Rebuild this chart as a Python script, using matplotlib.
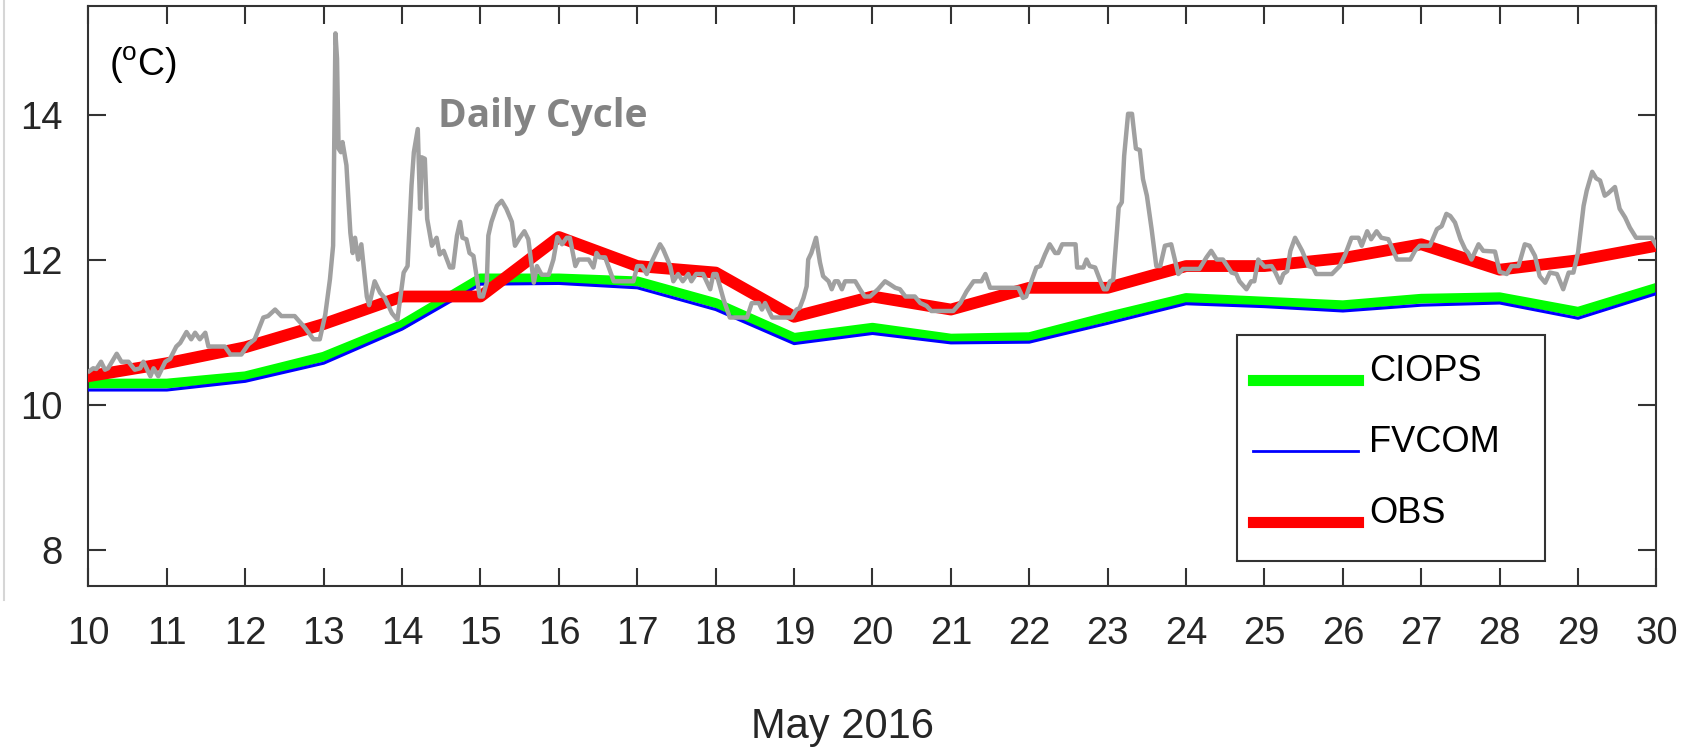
import matplotlib
matplotlib.use('Agg')
import matplotlib.pyplot as plt
from matplotlib.lines import Line2D
from matplotlib.patches import Rectangle

plt.rcParams['font.family'] = ['Liberation Sans Narrow', 'Liberation Sans', 'DejaVu Sans']
plt.rcParams['mathtext.fontset'] = 'custom'
plt.rcParams['mathtext.rm'] = 'Liberation Sans'

# ---------------- data ----------------
days = list(range(10, 31))
obs = [10.40, 10.58, 10.80, 11.12, 11.50, 11.50, 12.32, 11.92, 11.83, 11.22, 11.50,
       11.32, 11.62, 11.62, 11.92, 11.92, 12.03, 12.22, 11.87, 12.00, 12.20]
ciops = [10.30, 10.30, 10.40, 10.67, 11.11, 11.75, 11.75, 11.71, 11.41, 10.93, 11.07,
         10.92, 10.94, 11.22, 11.48, 11.43, 11.38, 11.47, 11.49, 11.29, 11.62]
fvcom = [10.21, 10.21, 10.33, 10.58, 11.05, 11.67, 11.68, 11.62, 11.32, 10.85, 10.99,
         10.86, 10.87, 11.13, 11.40, 11.36, 11.30, 11.38, 11.41, 11.20, 11.54]

cycle_days = [10.01, 10.06, 10.10, 10.16, 10.21, 10.25, 10.36, 10.42, 10.51, 10.59,
              10.66, 10.70, 10.79, 10.83, 10.89, 10.98, 11.04, 11.12, 11.17, 11.25,
              11.31, 11.36, 11.42, 11.49, 11.53, 11.74, 11.81, 11.95, 12.04, 12.12,
              12.23, 12.29, 12.38, 12.46, 12.63, 12.76, 12.87, 12.95, 13.02, 13.08,
              13.12, 13.15, 13.17, 13.19, 13.22, 13.24, 13.29, 13.34, 13.37, 13.40,
              13.44, 13.48, 13.55, 13.58, 13.65, 13.72, 13.78, 13.87, 13.94, 14.02,
              14.07, 14.12, 14.15, 14.20, 14.23, 14.25, 14.29, 14.32, 14.38, 14.44,
              14.48, 14.53, 14.61, 14.65, 14.70, 14.74, 14.77, 14.82, 14.86, 14.91,
              14.99, 15.03, 15.08, 15.10, 15.14, 15.21, 15.27, 15.33, 15.40, 15.44,
              15.50, 15.56, 15.61, 15.68, 15.72, 15.78, 15.87, 15.93, 15.98, 16.04,
              16.10, 16.14, 16.21, 16.25, 16.38, 16.44, 16.48, 16.52, 16.59, 16.63,
              16.70, 16.95, 17.00, 17.06, 17.12, 17.18, 17.29, 17.33, 17.42, 17.46,
              17.52, 17.58, 17.65, 17.69, 17.75, 17.84, 17.93, 17.97, 18.01, 18.10,
              18.18, 18.40, 18.46, 18.55, 18.59, 18.63, 18.72, 18.97, 19.03, 19.07,
              19.12, 19.16, 19.18, 19.22, 19.28, 19.33, 19.37, 19.44, 19.48, 19.52,
              19.56, 19.61, 19.65, 19.78, 19.84, 19.90, 19.97, 20.07, 20.16, 20.22,
              20.29, 20.35, 20.42, 20.54, 20.61, 20.69, 20.75, 21.03, 21.12, 21.20,
              21.29, 21.39, 21.44, 21.50, 21.86, 21.92, 21.96, 22.03, 22.09, 22.14,
              22.20, 22.26, 22.33, 22.37, 22.42, 22.59, 22.61, 22.69, 22.73, 22.77,
              22.84, 22.90, 22.95, 22.99, 23.03, 23.07, 23.12, 23.14, 23.18, 23.21,
              23.26, 23.31, 23.36, 23.41, 23.45, 23.50, 23.56, 23.62, 23.67, 23.73,
              23.81, 23.90, 23.96, 24.17, 24.26, 24.32, 24.39, 24.47, 24.58, 24.64,
              24.68, 24.77, 24.83, 24.87, 24.92, 25.00, 25.09, 25.14, 25.20, 25.24,
              25.29, 25.33, 25.39, 25.48, 25.56, 25.62, 25.66, 25.86, 25.96, 26.03,
              26.11, 26.20, 26.24, 26.31, 26.36, 26.43, 26.49, 26.58, 26.69, 26.86,
              26.92, 26.98, 27.11, 27.20, 27.26, 27.32, 27.37, 27.43, 27.50, 27.56,
              27.60, 27.64, 27.73, 27.79, 27.94, 28.00, 28.09, 28.15, 28.24, 28.32,
              28.38, 28.45, 28.51, 28.58, 28.64, 28.73, 28.81, 28.88, 28.94, 29.00,
              29.07, 29.11, 29.18, 29.23, 29.28, 29.34, 29.38, 29.47, 29.53, 29.60,
              29.66, 29.74, 29.94, 30.00]
cycle_temp = [10.47, 10.51, 10.50, 10.60, 10.49, 10.51, 10.71, 10.60, 10.60, 10.49,
              10.51, 10.60, 10.40, 10.51, 10.40, 10.60, 10.64, 10.81, 10.86, 11.01,
              10.91, 11.00, 10.91, 11.00, 10.81, 10.81, 10.70, 10.70, 10.84, 10.91,
              11.21, 11.23, 11.32, 11.23, 11.23, 11.07, 10.91, 10.91, 11.25, 11.74,
              12.20, 15.13, 14.78, 13.54, 13.49, 13.63, 13.31, 12.38, 12.10, 12.31,
              12.01, 12.22, 11.50, 11.38, 11.71, 11.55, 11.48, 11.27, 11.18, 11.83,
              11.92, 13.03, 13.49, 13.81, 12.71, 13.42, 13.40, 12.57, 12.20, 12.31,
              12.08, 12.13, 11.90, 11.90, 12.34, 12.53, 12.31, 12.29, 12.10, 12.06,
              11.50, 11.50, 11.69, 12.34, 12.53, 12.75, 12.82, 12.71, 12.53, 12.20,
              12.31, 12.40, 12.29, 11.69, 11.92, 11.80, 11.80, 12.01, 12.32, 12.22,
              12.31, 12.31, 11.92, 12.01, 12.01, 11.90, 12.10, 12.04, 12.04, 11.92,
              11.71, 11.71, 11.92, 11.92, 11.81, 11.97, 12.22, 12.15, 11.92, 11.71,
              11.81, 11.71, 11.81, 11.71, 11.81, 11.81, 11.60, 11.81, 11.81, 11.46,
              11.21, 11.21, 11.41, 11.41, 11.32, 11.41, 11.21, 11.21, 11.32, 11.34,
              11.48, 11.64, 12.01, 12.10, 12.31, 11.97, 11.78, 11.71, 11.60, 11.71,
              11.71, 11.60, 11.71, 11.71, 11.60, 11.50, 11.50, 11.60, 11.71, 11.67,
              11.62, 11.60, 11.50, 11.50, 11.41, 11.37, 11.30, 11.30, 11.41, 11.57,
              11.71, 11.71, 11.81, 11.62, 11.62, 11.48, 11.50, 11.72, 11.90, 11.92,
              12.08, 12.22, 12.10, 12.10, 12.22, 12.22, 11.90, 11.90, 12.01, 11.92,
              11.90, 11.73, 11.60, 11.60, 11.71, 11.73, 12.43, 12.73, 12.80, 13.44,
              14.02, 14.02, 13.54, 13.52, 13.12, 12.89, 12.43, 11.92, 11.92, 12.20,
              12.22, 11.81, 11.88, 11.88, 12.04, 12.13, 12.01, 12.01, 11.83, 11.81,
              11.71, 11.60, 11.71, 11.71, 12.01, 11.91, 11.92, 11.83, 11.69, 11.81,
              11.85, 12.13, 12.31, 12.13, 11.92, 11.90, 11.81, 11.81, 11.92, 12.08,
              12.31, 12.31, 12.20, 12.40, 12.29, 12.40, 12.31, 12.29, 12.01, 12.01,
              12.13, 12.20, 12.20, 12.43, 12.47, 12.64, 12.61, 12.52, 12.29, 12.15,
              12.10, 12.01, 12.22, 12.13, 12.12, 11.84, 11.81, 11.92, 11.92, 12.22,
              12.20, 12.06, 11.78, 11.69, 11.83, 11.81, 11.60, 11.83, 11.83, 12.11,
              12.75, 12.96, 13.22, 13.13, 13.10, 12.89, 12.92, 13.01, 12.71, 12.59,
              12.45, 12.31, 12.31, 12.20]

series_labels = ['CIOPS', 'FVCOM', 'OBS']
xticks = list(range(10, 31))
yticks = [8, 10, 12, 14]

# ---------------- figure ----------------
W, H = 1693, 754
fig = plt.figure(figsize=(16.93, 7.54), dpi=100)
ax = fig.add_axes([0.05227, 0.22215, 0.92617, 0.76923])

# faint edge strip seen at the far left of the original image
fig.add_artist(Line2D([0.0025, 0.0025], [1 - 600 / H, 1.0], transform=fig.transFigure,
                      color='#d6d6d6', lw=1.5))

axis_col = '#333333'
h_c, = ax.plot(days, ciops, color='#00ff00', lw=7.0, zorder=2)
h_f, = ax.plot(days, fvcom, color='#0000ff', lw=2.2, zorder=3)
h_o, = ax.plot(days, obs, color='#ff0000', lw=8.5, zorder=4)
ax.plot(cycle_days, cycle_temp, color='#a0a0a0', lw=3.2, zorder=5)

ax.set_xlim(10, 30)
ax.set_ylim(7.5, 15.5)
ax.set_xticks(xticks)
ax.set_yticks(yticks)
ax.tick_params(axis='both', direction='in', length=13, width=1.5, color=axis_col,
               labelsize=27.5, labelcolor='#262626', top=True, right=True)
ax.tick_params(axis='x', pad=21)
ax.tick_params(axis='y', pad=18.5)
for s in ax.spines.values():
    s.set_linewidth(1.5)
    s.set_color(axis_col)

ax.set_xlabel('May 2016', fontsize=30, color='#262626')
ax.xaxis.set_label_coords(0.481, -0.2420)
ax.xaxis.label.set_va('center')

ax.text(10.26, 14.545, r'(${}^{\mathrm{o}}$C)', fontsize=27, color='black',
        ha='left', va='baseline')
ax.text(14.46, 13.84, 'Daily Cycle', fontsize=28, fontweight='bold',
        family=['Open Sans', 'DejaVu Sans'], color='#838383', ha='left', va='baseline')

# legend frame (drawn separately so its padding matches the original)
bx0, bx1, by0, by1 = 1237, 1545, 335, 561
frame = Rectangle((bx0 / W, 1 - by1 / H), (bx1 - bx0) / W, (by1 - by0) / H,
                  transform=fig.transFigure, facecolor='white', edgecolor=axis_col,
                  lw=1.5, zorder=6, clip_on=False)
ax.add_patch(frame)

leg = ax.legend(handles=[h_c, h_f, h_o], labels=series_labels, loc='upper left',
                bbox_to_anchor=(bx0 / W, 1 - (by0 + 3) / H),
                bbox_transform=fig.transFigure, borderaxespad=0,
                frameon=False, fontsize=26, handlelength=2.9, handletextpad=0.3,
                labelspacing=1.0, borderpad=0.45)
leg.set_zorder(7)
for ln, w in zip(leg.get_lines(), [8, 2, 8]):
    ln.set_linewidth(w)
    y = ln.get_ydata()
    ln.set_ydata([v - 8 for v in y])
for t in leg.get_texts():
    t.set_color('black')

fig.savefig('out.png', dpi=100)
